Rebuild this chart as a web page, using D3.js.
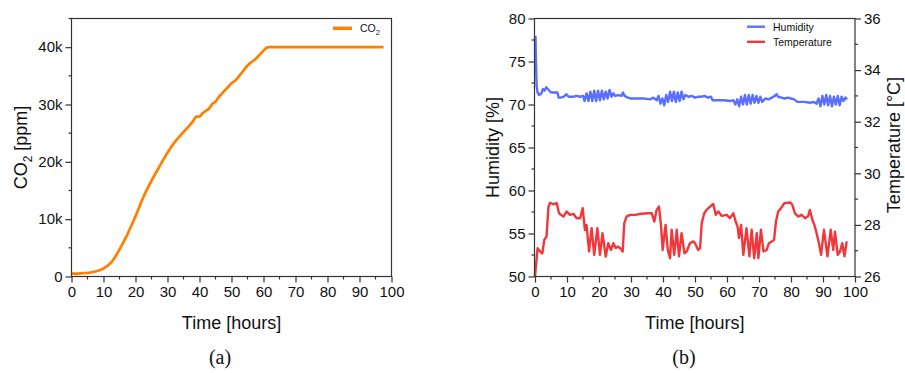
<!DOCTYPE html>
<html>
<head>
<meta charset="utf-8">
<script src="https://cdn.jsdelivr.net/npm/d3@7"></script>
<style>
  html, body { margin: 0; padding: 0; background: #fff; }
  svg text { font-family: "Liberation Sans", Arial, sans-serif; fill: #111; }
</style>
</head>
<body>
<div id="chart"></div>
<script>
// CO2 / humidity / temperature over time - two side-by-side panels

// panel (a): CO2 [ppm] vs time [hours]
const co2Data = [
  [0, 500], [3, 560], [6, 700], [8, 950], [10, 1400], [12.5, 2500], [15, 4700],
  [17.5, 7400], [20, 10500], [22.5, 13900], [25, 16700], [27.5, 19200], [30, 21600],
  [32.5, 23600], [35, 25200], [36.5, 26100], [38, 27100], [39, 27900], [40, 27900],
  [41, 28500], [42, 28900], [43, 29300], [44, 30100], [45, 30500], [46, 31300],
  [47, 31900], [48, 32500], [49, 33100], [50, 33700], [51, 34100], [52, 34700],
  [53, 35400], [54, 36100], [55, 36800], [56, 37300], [57, 37700], [58, 38200],
  [59, 38800], [60, 39400], [61, 39900], [61.6, 40000], [97.5, 40000]
];

// panel (b): humidity [%]
const humidityData = [
  [0.15, 78.0], [0.3, 75], [0.5, 72.2], [0.8, 71.4], [1.3, 71.1], [2, 71.3], [2.5, 71.8],
  [3, 71.6], [3.5, 72.0], [4, 71.8], [4.5, 71.6], [5, 71.4], [6, 71.4], [7, 71.4],
  [7.4, 70.8], [8, 70.8], [9, 70.9], [9.8, 71.2], [10.5, 70.9], [12, 70.9], [13, 71.0],
  [14, 70.9], [15, 71.0], [15.5, 70.4], [16.1, 71.3], [16.7, 70.4], [17.3, 71.5],
  [17.9, 70.4], [18.5, 71.6], [19.1, 70.4], [19.7, 71.6], [20.3, 70.5], [20.9, 71.6],
  [21.5, 70.6], [22.1, 71.5], [22.7, 70.7], [23.3, 71.7], [23.9, 70.9], [24.5, 71.3],
  [25, 71.0], [26, 71.1], [27, 71.0], [27.5, 71.4], [28, 71.0], [29, 70.8], [30, 70.7],
  [32, 70.7], [34, 70.7], [36, 70.6], [37, 70.8], [38, 70.5], [38.6, 71.0], [39.2, 70.1],
  [39.8, 70.7], [40.4, 69.9], [41, 71.1], [41.6, 70.3], [42.2, 71.5], [42.8, 70.4],
  [43.4, 71.5], [44, 70.3], [44.6, 71.4], [45.2, 70.4], [45.8, 71.5], [46.4, 70.6],
  [47, 71.1], [48, 70.9], [49, 71.0], [50, 70.8], [51, 70.9], [52, 70.9], [53, 71.0],
  [54, 70.8], [55, 70.9], [55.5, 70.5], [57, 70.5], [59, 70.5], [61, 70.4], [62, 70.5],
  [62.6, 70.0], [63.2, 70.6], [63.8, 69.8], [64.4, 70.9], [65, 70.0], [65.6, 71.1],
  [66.2, 70.0], [66.8, 71.1], [67.4, 70.1], [68, 71.1], [68.6, 70.2], [69.2, 71.0],
  [69.8, 70.2], [70.4, 70.9], [71, 70.3], [72, 70.7], [73, 70.6], [74, 70.8],
  [75, 71.0], [75.5, 71.2], [76, 70.9], [77, 70.8], [78, 70.7], [79, 70.8], [80, 70.7],
  [81, 70.6], [82, 70.3], [84, 70.3], [86, 70.2], [87, 70.3], [88, 70.1], [88.6, 70.7],
  [89.2, 69.8], [89.8, 71.0], [90.4, 70.0], [91, 71.1], [91.6, 69.9], [92.2, 71.0],
  [92.8, 69.8], [93.4, 70.9], [94, 70.0], [94.6, 71.0], [95.2, 69.9], [95.8, 70.9],
  [96.4, 70.4], [97, 70.8], [97.5, 70.6]
];

// panel (b): temperature [°C]
const temperatureData = [
  [0, 26.0], [0.8, 27.1], [1.6, 26.97], [2.3, 26.9], [2.9, 27.42], [3.6, 27.55],
  [4.2, 28.7], [4.7, 28.86], [5.7, 28.8], [6.8, 28.84], [7.5, 28.45], [8.9, 28.32],
  [9.9, 28.52], [10.9, 28.39], [12, 28.43], [13, 28.26], [14.1, 28.26], [14.9, 28.65],
  [15.6, 27.8], [16.1, 28.0], [16.9, 26.97], [17.7, 27.87], [18.5, 26.84], [19.5, 27.87],
  [20.3, 26.84], [21.1, 27.68], [22.1, 26.77], [22.9, 27.29], [23.75, 27.03],
  [24.5, 27.29], [25.2, 27.1], [26, 27.16], [26.9, 27.06], [27.4, 26.97], [27.9, 28.07],
  [28.6, 28.32], [29.7, 28.39], [31.25, 28.39], [33.3, 28.43], [35.4, 28.45],
  [36.5, 28.45], [37.3, 28.13], [38, 28.58], [38.75, 28.71], [39.4, 27.94], [39.9, 27.03],
  [40.8, 28.0], [41.5, 27.03], [42.2, 26.71], [42.7, 27.81], [43.5, 26.84], [44.3, 27.81],
  [45, 26.78], [45.8, 27.68], [46.7, 26.9], [47.4, 26.97], [48.4, 27.29], [49.5, 27.36],
  [50, 27.29], [51, 27.03], [51.6, 27.1], [52.1, 28.07], [52.9, 28.45], [53.6, 28.58],
  [54.7, 28.71], [55.7, 28.81], [56.5, 28.39], [57.3, 28.52], [58.3, 28.35],
  [59.9, 28.39], [60.9, 28.26], [62, 28.45], [62.7, 28.13], [63.3, 27.94], [63.75, 27.49],
  [64.4, 28.0], [65.1, 26.84], [66.1, 27.87], [67, 26.78], [67.7, 27.81], [68.5, 26.71],
  [69.3, 27.68], [69.8, 26.71], [70.6, 27.81], [71.4, 26.97], [72.4, 27.03],
  [73.1, 27.29], [74, 27.36], [74.7, 27.42], [75.3, 28.13], [76, 28.52], [76.9, 28.65],
  [77.9, 28.84], [79.7, 28.87], [80.4, 28.78], [81.25, 28.45], [82.3, 28.32],
  [83.3, 28.39], [84.4, 28.26], [85.4, 28.35], [85.9, 28.58], [86.7, 28.19], [87.3, 28.0],
  [88, 27.68], [88.5, 27.42], [89.4, 26.84], [90.3, 27.81], [91.4, 26.78], [92.4, 27.81],
  [93.2, 27.03], [93.75, 27.74], [94.6, 26.84], [95.3, 26.97], [96, 27.29],
  [96.7, 26.78], [97.4, 27.36]
];

const timeTicks = [0, 10, 20, 30, 40, 50, 60, 70, 80, 90, 100];
const co2Ticks = [0, 10000, 20000, 30000, 40000];
const humidityTicks = [50, 55, 60, 65, 70, 75, 80];
const temperatureTicks = [26, 28, 30, 32, 34, 36];

const colors = { co2: '#ff8000', humidity: '#5a6eff', temperature: '#f0383c' };
const axisColor = '#333';

const svg = d3.select('#chart').append('svg')
  .attr('width', 905)
  .attr('height', 373);

function frame(g, w, h) {
  g.append('rect')
    .attr('width', w).attr('height', h)
    .attr('fill', 'none')
    .attr('stroke', axisColor)
    .attr('stroke-width', 1.2);
}

function styleAxis(sel) {
  sel.select('.domain').remove();
  sel.selectAll('.tick line').attr('stroke', axisColor).attr('stroke-width', 1.2);
  sel.selectAll('.tick text').attr('font-size', '15px').attr('fill', '#111');
}

function minorTicks(g, scale, values, orient, len) {
  values.forEach(v => {
    const p = scale(v);
    const line = g.append('line').attr('stroke', axisColor).attr('stroke-width', 1.2);
    if (orient === 'bottom') line.attr('x1', p).attr('x2', p).attr('y1', 0).attr('y2', len);
    if (orient === 'left') line.attr('x1', 0).attr('x2', -len).attr('y1', p).attr('y2', p);
    if (orient === 'right') line.attr('x1', 0).attr('x2', len).attr('y1', p).attr('y2', p);
  });
}

// ---------- panel (a) ----------
const A = { left: 71.5, top: 18.5, w: 320, h: 258 };
const ga = svg.append('g').attr('transform', `translate(${A.left},${A.top})`);

const xa = d3.scaleLinear().domain([0, 100]).range([0, A.w]);
const ya = d3.scaleLinear().domain([0, 45000]).range([A.h, 0]);

ga.append('path')
  .datum(co2Data)
  .attr('fill', 'none')
  .attr('stroke', colors.co2)
  .attr('stroke-width', 2.7)
  .attr('stroke-linejoin', 'round')
  .attr('d', d3.line().x(d => xa(d[0])).y(d => ya(d[1])).curve(d3.curveMonotoneX));

frame(ga, A.w, A.h);

const xaAxis = ga.append('g').attr('transform', `translate(0,${A.h})`)
  .call(d3.axisBottom(xa).tickValues(timeTicks).tickSize(6).tickPadding(4));
styleAxis(xaAxis);
minorTicks(xaAxis, xa, d3.range(5, 100, 10), 'bottom', 3);

const yaAxis = ga.append('g')
  .call(d3.axisLeft(ya).tickValues(co2Ticks).tickSize(6).tickPadding(3)
    .tickFormat(d => d === 0 ? '0' : (d / 1000) + 'k'));
styleAxis(yaAxis);
minorTicks(yaAxis, ya, [5000, 15000, 25000, 35000, 45000], 'left', 3);

ga.append('text')
  .attr('x', A.w / 2).attr('y', 328.5 - A.top)
  .attr('text-anchor', 'middle').attr('font-size', '18px')
  .text('Time [hours]');

const co2Title = ga.append('text')
  .attr('transform', `translate(${27 - A.left},${A.h / 2}) rotate(-90)`)
  .attr('text-anchor', 'middle').attr('font-size', '18px');
co2Title.append('tspan').text('CO');
co2Title.append('tspan').attr('font-size', '12px').attr('dy', 5).text('2');
co2Title.append('tspan').attr('dy', -5).text(' [ppm]');

// legend (a)
const la = ga.append('g').attr('transform', `translate(${333 - A.left},${28.3 - A.top})`);
la.append('line').attr('x1', 0).attr('x2', 19).attr('stroke', colors.co2).attr('stroke-width', 3.4);
const laText = la.append('text').attr('x', 27).attr('y', 4).attr('font-size', '10.5px');
laText.append('tspan').text('CO');
laText.append('tspan').attr('font-size', '7.5px').attr('dy', 3).text('2');

svg.append('text')
  .attr('x', 220).attr('y', 364)
  .attr('text-anchor', 'middle')
  .style('font-family', '"Liberation Serif", "DejaVu Serif", serif')
  .attr('font-size', '20px')
  .text('(a)');

// ---------- panel (b) ----------
const B = { left: 534.5, top: 18.5, w: 320.5, h: 258 };
const gb = svg.append('g').attr('transform', `translate(${B.left},${B.top})`);

const xb = d3.scaleLinear().domain([0, 100]).range([0.5, B.w]);
const yHum = d3.scaleLinear().domain([50, 80]).range([B.h, 0]);
const yTemp = d3.scaleLinear().domain([26, 36]).range([B.h, 0]);

gb.append('path')
  .datum(humidityData)
  .attr('fill', 'none')
  .attr('stroke', colors.humidity)
  .attr('stroke-width', 2.4)
  .attr('stroke-linejoin', 'round')
  .attr('d', d3.line().x(d => xb(d[0])).y(d => yHum(d[1])));

gb.append('path')
  .datum(temperatureData)
  .attr('fill', 'none')
  .attr('stroke', colors.temperature)
  .attr('stroke-width', 2.4)
  .attr('stroke-linejoin', 'round')
  .attr('d', d3.line().x(d => xb(d[0])).y(d => yTemp(d[1])));

frame(gb, B.w, B.h);

const xbAxis = gb.append('g').attr('transform', `translate(0,${B.h})`)
  .call(d3.axisBottom(xb).tickValues(timeTicks).tickSize(6).tickPadding(4));
styleAxis(xbAxis);
minorTicks(xbAxis, xb, d3.range(5, 100, 10), 'bottom', 3);

const yHumAxis = gb.append('g')
  .call(d3.axisLeft(yHum).tickValues(humidityTicks).tickSize(6).tickPadding(3));
styleAxis(yHumAxis);
minorTicks(yHumAxis, yHum, d3.range(52.5, 80, 5), 'left', 3);

const yTempAxis = gb.append('g').attr('transform', `translate(${B.w},0)`)
  .call(d3.axisRight(yTemp).tickValues(temperatureTicks).tickSize(6).tickPadding(3));
styleAxis(yTempAxis);
minorTicks(yTempAxis, yTemp, [27, 29, 31, 33, 35], 'right', 3);

gb.append('text')
  .attr('x', B.w / 2).attr('y', 328.5 - B.top)
  .attr('text-anchor', 'middle').attr('font-size', '18px')
  .text('Time [hours]');

gb.append('text')
  .attr('transform', `translate(${498.5 - B.left},${B.h / 2}) rotate(-90)`)
  .attr('text-anchor', 'middle').attr('font-size', '18px')
  .text('Humidity [%]');

gb.append('text')
  .attr('transform', `translate(${900 - B.left},${145 - B.top}) rotate(-90)`)
  .attr('text-anchor', 'middle').attr('font-size', '18px')
  .text('Temperature [°C]');

// legend (b)
const legendB = [
  { name: 'Humidity', color: colors.humidity, y: 26.7 },
  { name: 'Temperature', color: colors.temperature, y: 41.8 }
];
legendB.forEach(item => {
  const row = gb.append('g').attr('transform', `translate(${747 - B.left},${item.y - B.top})`);
  row.append('line').attr('x1', 0).attr('x2', 18).attr('stroke', item.color).attr('stroke-width', 2.4);
  row.append('text').attr('x', 26).attr('y', 4).attr('font-size', '10.5px').text(item.name);
});

svg.append('text')
  .attr('x', 684).attr('y', 364)
  .attr('text-anchor', 'middle')
  .style('font-family', '"Liberation Serif", "DejaVu Serif", serif')
  .attr('font-size', '20px')
  .text('(b)');
</script>
</body>
</html>
